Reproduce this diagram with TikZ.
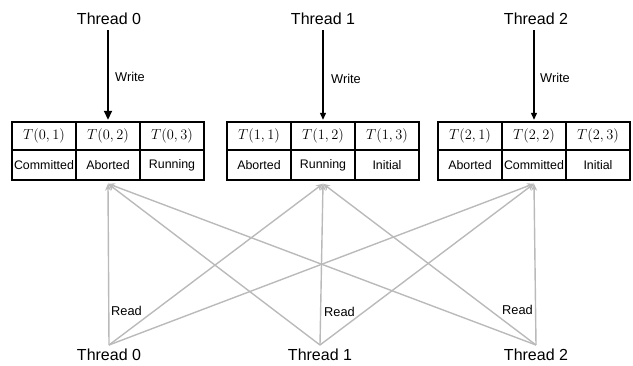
\documentclass[tikz,border=0pt]{standalone}
\usepackage{fontspec}
\setmainfont{Liberation Sans}
\usetikzlibrary{arrows.meta,calc}
\definecolor{readgray}{RGB}{186,186,186}
\begin{document}
\begin{tikzpicture}[x=1pt,y=-1pt,
  hcell/.style={draw, line width=1.4pt, minimum width=64pt, minimum height=28pt,
                inner sep=0pt, font=\fontsize{14.5}{16}\selectfont},
  scell/.style={draw, line width=1.4pt, minimum width=64pt, minimum height=30pt,
                inner sep=0pt, font=\fontsize{12.4}{14}\selectfont},
  thr/.style={font=\fontsize{16}{18}\selectfont, inner xsep=0pt},
  lab/.style={font=\fontsize{12.8}{14}\selectfont, inner sep=0pt},
  wr/.style={draw=black, line width=1.2pt, -{Triangle[length=7pt,width=6pt]}},
  rd/.style={draw=readgray, line width=1.4pt, -{Stealth[length=7pt,width=6pt]}}]
\useasboundingbox (0,0) rectangle (633,365);

% thread labels above and below
\node[thr, inner ysep=0pt] (tt0) at (109,19) {Thread 0};
\node[thr, inner ysep=0pt] (tt1) at (323,19) {Thread 1};
\node[thr, inner ysep=0pt] (tt2) at (536,19) {Thread 2};
\node[thr, inner ysep=4pt, anchor=north] (bt0) at (109,345) {Thread 0};
\node[thr, inner ysep=4pt, anchor=north] (bt1) at (320,345) {Thread 1};
\node[thr, inner ysep=4pt, anchor=north] (bt2) at (536,345) {Thread 2};

% one table per thread: header row and status row
\foreach \t/\x/\a/\b/\c in {0/12/Committed/Aborted/Running,
                            1/227/Aborted/Running/Initial,
                            2/438/Aborted/Committed/Initial} {
  \foreach \k in {1,2,3} {
    \node[hcell] (h\t\k) at (\x+64*\k-32,136) {$T(\t,\k)$};
  }
  \node[scell] (r\t1) at (\x+32,165) {\a};
  \node[scell] (r\t2) at (\x+96,165) {\b};
  \node[scell] (r\t3) at (\x+160,165) {\c};
}

% read connectors: every thread reads every table
\foreach \s in {0,1,2} {
  \foreach \d in {0,1,2} {
    \draw[rd] (bt\s.north) -- ($(r\d2.south)+(0,3)$);
  }
}

% write connectors
\draw[wr, line width=1.8pt, -{Triangle[length=9pt,width=8pt]}, shorten <=5pt, shorten >=1.5pt]
  (tt0.south -| h02) -- (h02.north);
\draw[wr, shorten <=5pt, shorten >=1.5pt] (tt1.south -| h12) -- (h12.north);
\draw[wr, shorten <=5pt, shorten >=1.5pt] (tt2.south -| h22) -- (h22.north);

\node[lab, anchor=west] (w0) at (115,77) {Write};
\node[lab, anchor=west] (w1) at (331,79) {Write};
\node[lab, anchor=west] (w2) at (540,78) {Write};

\node[lab, anchor=west] (rl0) at (111,311) {Read};
\node[lab, anchor=west] (rl1) at (324,312) {Read};
\node[lab, anchor=east] (rl2) at (533,310) {Read};
\end{tikzpicture}
\end{document}
